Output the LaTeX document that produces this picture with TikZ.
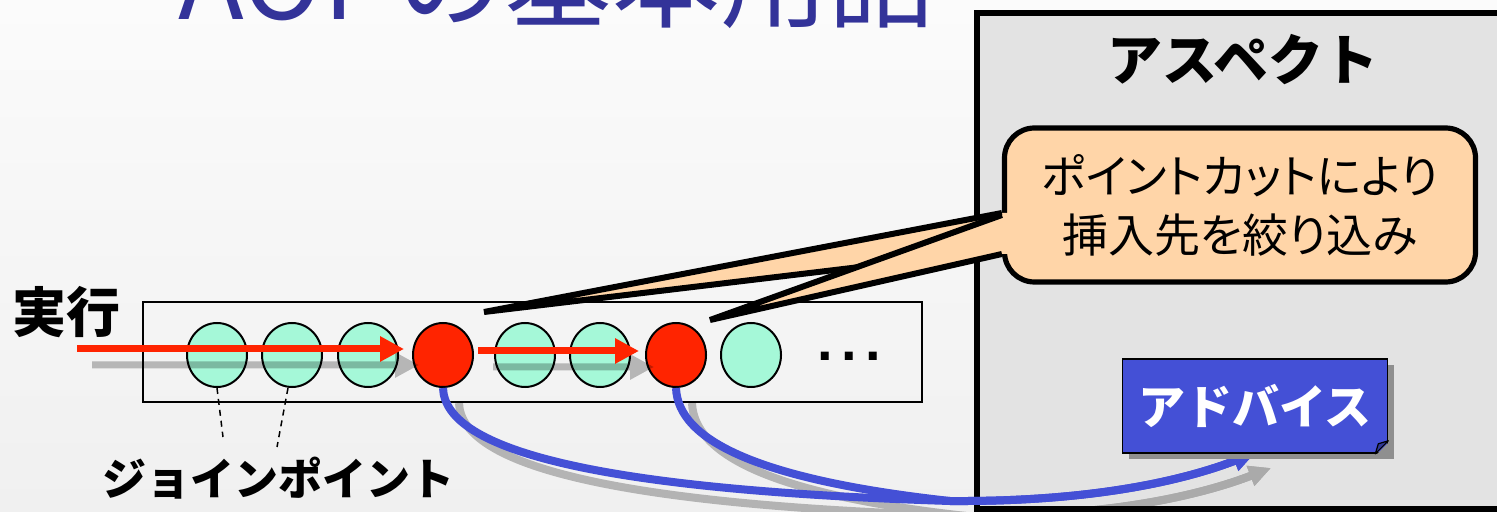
\documentclass[tikz,border=0pt]{standalone}
\usepackage{fontspec}
\newfontfamily\jp{Noto Sans CJK JP}
\newfontfamily\jpp[RawFeature=+palt]{Noto Sans CJK JP}
\newfontfamily\arialfont{Liberation Sans}
\usetikzlibrary{arrows.meta,calc,shapes.geometric,shadows}
\definecolor{bgtop}{RGB}{251,251,251}
\definecolor{bgbot}{RGB}{240,240,240}
\definecolor{titleblue}{RGB}{51,51,153}
\definecolor{jpgreen}{RGB}{165,248,216}
\definecolor{jpred}{RGB}{255,36,0}
\definecolor{aspectgray}{RGB}{227,227,227}
\definecolor{peach}{RGB}{255,213,168}
\definecolor{advblue}{RGB}{68,80,214}
\definecolor{shadowgray}{RGB}{143,143,143}
\tikzset{
  jpbox/.style={draw=black,line width=1pt,minimum width=389.5pt,minimum height=50pt,inner sep=0pt,anchor=north west},
  joinpt/.style={ellipse,draw=black,line width=1pt,minimum width=30pt,minimum height=32pt,inner sep=0pt,fill=jpgreen},
  hitpt/.style={joinpt,fill=jpred},
  redarrow/.style={draw=jpred,line width=3.5pt,-{Triangle[length=12pt,width=12pt]}},
  redshadow/.style={draw=black,line width=3.5pt,-{Triangle[length=12pt,width=12pt]}},
  bluearrow/.style={draw=advblue,line width=4pt,-{Triangle[length=11pt,width=10pt]}},
  blueshadow/.style={draw=black,line width=4pt,-{Triangle[length=11pt,width=10pt]}},
  dashline/.style={draw=black,line width=0.75pt,dash pattern=on 3pt off 2.5pt},
  aspectbox/.style={draw=black,line width=3pt,fill=aspectgray,minimum width=275pt,minimum height=248pt,anchor=north west,inner sep=0pt},
  calloutbox/.style={draw=black,line width=2.6pt,fill=peach,rounded corners=15pt,minimum width=235.5pt,minimum height=77pt,align=center,inner sep=0pt,font=\jpp\fontsize{23}{29.5}\selectfont},
  pointer/.style={draw=black,line width=3pt},
  advbox/.style={draw=black,line width=0.8pt,fill=advblue,minimum width=132.5pt,minimum height=47pt,inner sep=0pt,text=white,font=\jp\bfseries\fontsize{23.5}{26}\selectfont,drop shadow={shadow xshift=3pt,shadow yshift=-3pt,opacity=1,fill=shadowgray}},
  boldlabel/.style={inner sep=0pt,text=black},
  titletext/.style={anchor=base west,inner sep=0pt,text=titleblue,font=\jp\fontsize{54}{60}\selectfont},
}
\begin{document}
\begin{tikzpicture}[x=0.5pt,y=-0.5pt]
\useasboundingbox (0,0) rectangle (1497,512);
\clip (0,0) rectangle (1497,512);
\shade[top color=bgtop,bottom color=bgbot] (0,0) rectangle (1497,512);

% title (cut by the top edge, as in the reference)
\node[titletext] (titleA) at (178,20) {AOP};
\node[titletext] (titleB) at (396,20) {の基本用語};

% aspect box
\node[aspectbox] (aspect) at (974,10) {};
\node[boldlabel,font=\jp\bfseries\fontsize{27.5}{30}\selectfont] (asptitle) at (1243,60) {アスペクト};

% join point row
\node[jpbox] (row) at (142,301) {};
\node[joinpt] (c1) at (217,355) {};
\node[joinpt] (c2) at (292,355) {};
\node[joinpt] (c3) at (368,355) {};
\node[hitpt]  (r1) at (443,355) {};
\node[joinpt] (c4) at (525,355) {};
\node[joinpt] (c5) at (600,355) {};
\node[hitpt]  (r2) at (676,355) {};
\node[joinpt] (c6) at (751,355) {};
\node[inner sep=0pt,anchor=base,font=\arialfont\bfseries\fontsize{28}{30}\selectfont] (dots) at (849,361) {.\kern4.2pt.\kern4.2pt.};

\coordinate (execstart) at (77,349);

% shadows of the execution arrows
\begin{scope}[transform canvas={xshift=7.5pt,yshift=-8pt}]
\begin{scope}[transparency group,opacity=0.25]
\draw[redshadow,shorten >=4pt] (execstart) -- (execstart -| r1.west);
\draw[redshadow,shorten <=2pt,shorten >=3pt] ($(r1.east)+(0,-4)$) -- ($(r2.west)+(0,-4)$);
\end{scope}
\end{scope}
% execution arrows
\draw[redarrow,shorten >=4pt] (execstart) -- (execstart -| r1.west);
\draw[redarrow,shorten <=2pt,shorten >=3pt] ($(r1.east)+(0,-4)$) -- ($(r2.west)+(0,-4)$);

% dashed lines to label
\coordinate (d1) at (223,437);
\coordinate (d2) at (277,447);
\draw[dashline] (c1.south) -- (d1);
\draw[dashline] ($(c2.south)+(-4,0)$) -- (d2);

\node[boldlabel,font=\jp\bfseries\fontsize{27}{30}\selectfont] (exec) at (66,312) {実行};
\node[boldlabel,font=\jp\bfseries\fontsize{22}{26}\selectfont] (jplabel) at (278,478) {ジョインポイント};

% advice node position (needed for curves)
\coordinate (advsouth) at (1255,453);

% shadows of advice curves
\begin{scope}[transform canvas={xshift=8pt,yshift=-7.5pt}]
\begin{scope}[transparency group,opacity=0.25]
\draw[blueshadow] (r1.south) .. controls +(2,63) and (600,490) .. (950,501) .. controls (1100,502) and (1190,478) .. (advsouth);
\draw[blueshadow] (r2.south) .. controls +(2,53) and (760,480) .. (950,501) .. controls (1100,502) and (1190,478) .. (advsouth);
\end{scope}
\end{scope}
\draw[bluearrow] (r1.south) .. controls +(2,63) and (600,490) .. (950,501) .. controls (1100,502) and (1190,478) .. (advsouth);
\draw[bluearrow] (r2.south) .. controls +(2,53) and (760,480) .. (950,501) .. controls (1100,502) and (1190,478) .. (advsouth);

% advice box
\node[advbox] (adv) at (1255,406) {アドバイス};
\fill[shadowgray] ($(adv.south east)+(-13,2)$) -- ($(adv.south east)+(2,2)$) -- ($(adv.south east)+(2,-13)$) -- cycle;
\filldraw[fill=advblue!70!black,draw=black,line width=0.6pt,line join=round] ($(adv.south east)+(-13,0)$) -- ($(adv.south east)+(-10,-10)$) -- ($(adv.south east)+(0,-13)$) -- cycle;

% callout
\node[calloutbox] (call) at (1240,205) {ポイントカットにより\\挿入先を絞り込み};
\coordinate (tip1) at (484,312);
\coordinate (tip2) at (710,320);
\fill[peach] ($(call.west)+(0,8)$) -- (tip1) -- ($(call.west)+(0,45)$) -- ($(call.west)+(6,45)$) -- ($(call.west)+(6,8)$) -- cycle;
\draw[pointer] ($(call.west)+(0,8)$) -- (tip1) -- ($(call.west)+(0,45)$);
\fill[peach] ($(call.west)+(0,10)$) -- (tip2) -- ($(call.west)+(0,49)$) -- ($(call.west)+(6,49)$) -- ($(call.west)+(6,10)$) -- cycle;
\draw[pointer] ($(call.west)+(0,10)$) -- (tip2) -- ($(call.west)+(0,49)$);
\end{tikzpicture}
\end{document}
